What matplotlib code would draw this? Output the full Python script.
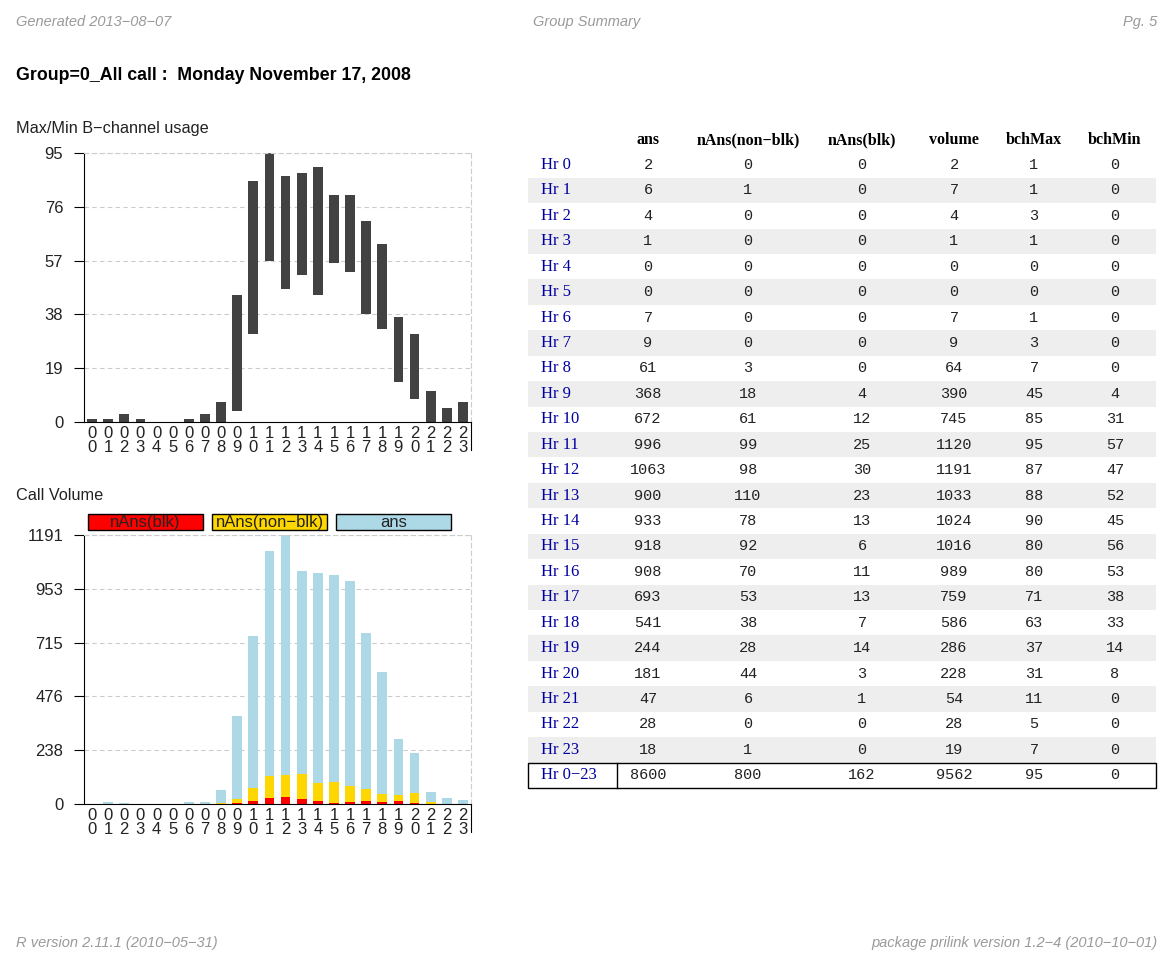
import matplotlib
matplotlib.use("Agg")
import matplotlib.pyplot as plt
from matplotlib.patches import Rectangle
from matplotlib.lines import Line2D

# hourly data for the group
hours = list(range(24))
ans = [2, 6, 4, 1, 0, 0, 7, 9, 61, 368, 672, 996, 1063, 900, 933, 918, 908, 693, 541, 244, 181, 47, 28, 18]
nans_nonblk = [0, 1, 0, 0, 0, 0, 0, 0, 3, 18, 61, 99, 98, 110, 78, 92, 70, 53, 38, 28, 44, 6, 0, 1]
nans_blk = [0, 0, 0, 0, 0, 0, 0, 0, 0, 4, 12, 25, 30, 23, 13, 6, 11, 13, 7, 14, 3, 1, 0, 0]
volume = [2, 7, 4, 1, 0, 0, 7, 9, 64, 390, 745, 1120, 1191, 1033, 1024, 1016, 989, 759, 586, 286, 228, 54, 28, 19]
bch_max = [1, 1, 3, 1, 0, 0, 1, 3, 7, 45, 85, 95, 87, 88, 90, 80, 80, 71, 63, 37, 31, 11, 5, 7]
bch_min = [0, 0, 0, 0, 0, 0, 0, 0, 0, 4, 31, 57, 47, 52, 45, 56, 53, 38, 33, 14, 8, 0, 0, 0]
totals = [8600, 800, 162, 9562, 95, 0]
col_names = ["ans", "nAns(non\u2212blk)", "nAns(blk)", "volume", "bchMax", "bchMin"]
legend_names = ["nAns(blk)", "nAns(non\u2212blk)", "ans"]

W, H = 1174, 961
plt.rcParams['font.family'] = ['Liberation Sans', 'DejaVu Sans']

fig = plt.figure(figsize=(W / 100, H / 100), dpi=100)

# background axes in pixel coordinates for the text and table
bg = fig.add_axes([0, 0, 1, 1])
bg.set_xlim(0, W)
bg.set_ylim(H, 0)
bg.axis('off')


def px_axes(left, top, right, bottom):
    return fig.add_axes([left / W, 1 - bottom / H, (right - left) / W, (bottom - top) / H])


def style_chart(ax, ymax):
    ax.set_xlim(-0.5, 23.5)
    ax.set_ylim(0, ymax)
    ticks = [ymax * k / 5 for k in range(6)]
    ax.set_yticks(ticks)
    ax.set_yticklabels([f"{t:.0f}" for t in ticks])
    ax.set_xticks(hours)
    ax.set_xticklabels(["\n".join(f"{h:02d}") for h in hours])
    for t in ax.get_xticklabels():
        t.set_linespacing(0.92)
    ax.tick_params(axis='x', length=0, pad=3, labelsize=12, labelcolor='#222222')
    ax.tick_params(axis='y', length=7, width=0.8, pad=8, labelsize=12, labelcolor='#222222')
    ax.grid(axis='y', ls=(0, (4, 3)), color='#cccccc', lw=0.8)
    ax.set_axisbelow(True)
    for s in ['top', 'right']:
        ax.spines[s].set_linestyle((0, (4, 3)))
        ax.spines[s].set_color('#cccccc')
        ax.spines[s].set_linewidth(0.8)
    for s in ['left', 'bottom']:
        ax.spines[s].set_linewidth(0.8)
    ax.add_line(Line2D([1, 1], [0, -0.105], transform=ax.transAxes,
                       color='black', lw=0.8, clip_on=False))


# header / footer
gray = '#9a9a9a'
hdr = dict(style='italic', color=gray, fontsize=10.5, va='center')
bg.text(16, 22, "Generated 2013\u221208\u221207", **hdr)
bg.text(587, 22, "Group Summary", ha='center', **hdr)
bg.text(1157, 22, "Pg. 5", ha='right', **hdr)
bg.text(16, 943, "R version 2.11.1 (2010\u221205\u221231)", **hdr)
bg.text(1157, 943, "package prilink version 1.2\u22124 (2010\u221210\u221201)", ha='right', **hdr)

bg.text(16, 76, "Group=0_All call :  Monday November 17, 2008", fontsize=12.8, fontweight='bold', va='center')
bg.text(16, 128, "Max/Min B\u2212channel usage", fontsize=11.7, va='center', color='#222222')
bg.text(16, 496, "Call Volume", fontsize=11.7, va='center', color='#222222')

# Max/Min B-channel chart
ax1 = px_axes(84, 153, 471, 422)
ax1.bar(hours, [mx - mn for mx, mn in zip(bch_max, bch_min)], bottom=bch_min,
        width=0.6, color='#424242')
style_chart(ax1, max(bch_max))

# Call volume chart
ax2 = px_axes(84, 535, 471, 804)
colors = ['#ff0000', '#ffd700', '#add8e6']
ax2.bar(hours, nans_blk, width=0.6, color=colors[0])
ax2.bar(hours, nans_nonblk, bottom=nans_blk, width=0.6, color=colors[1])
ax2.bar(hours, ans, bottom=[a + b for a, b in zip(nans_blk, nans_nonblk)], width=0.6, color=colors[2])
style_chart(ax2, max(volume))

# legend boxes
for x0, name, c in zip([88, 212, 336], legend_names, colors):
    bg.add_patch(Rectangle((x0, 514), 115, 16, facecolor=c, edgecolor='black', lw=1))
    bg.text(x0 + 57.5, 522.5, name, ha='center', va='center', fontsize=12, color='#222222')

# table
col_x = [648, 748, 862, 954, 1034, 1115]
columns = [ans, nans_nonblk, nans_blk, volume, bch_max, bch_min]
row_h = 25.43
y0 = 165
for cx, name in zip(col_x, col_names):
    bg.text(cx, 140, name, ha='center', va='center', family='Liberation Serif',
            fontweight='bold', fontsize=11.5)
for i in hours:
    y = y0 + i * row_h
    if i % 2 == 1:
        bg.add_patch(Rectangle((528, y - row_h / 2), 628, row_h, facecolor='#eeeeee', edgecolor='none'))
    bg.text(541, y, f"Hr {i}", va='center', family='Liberation Serif', fontsize=12, color='#0000a0')
    for cx, col in zip(col_x, columns):
        bg.text(cx, y, str(col[i]), ha='center', va='center', family='Liberation Mono',
                fontsize=11, color='#222222')

yt = y0 + 24 * row_h
bg.add_patch(Rectangle((528, yt - row_h / 2), 628, row_h, facecolor='none', edgecolor='black', lw=1))
bg.plot([617, 617], [yt - row_h / 2, yt + row_h / 2], color='black', lw=1)
bg.text(541, yt, "Hr 0\u221223", va='center', family='Liberation Serif', fontsize=12, color='#0000a0')
for cx, v in zip(col_x, totals):
    bg.text(cx, yt, str(v), ha='center', va='center', family='Liberation Mono', fontsize=11, color='#222222')

fig.savefig("out.png", dpi=100)
